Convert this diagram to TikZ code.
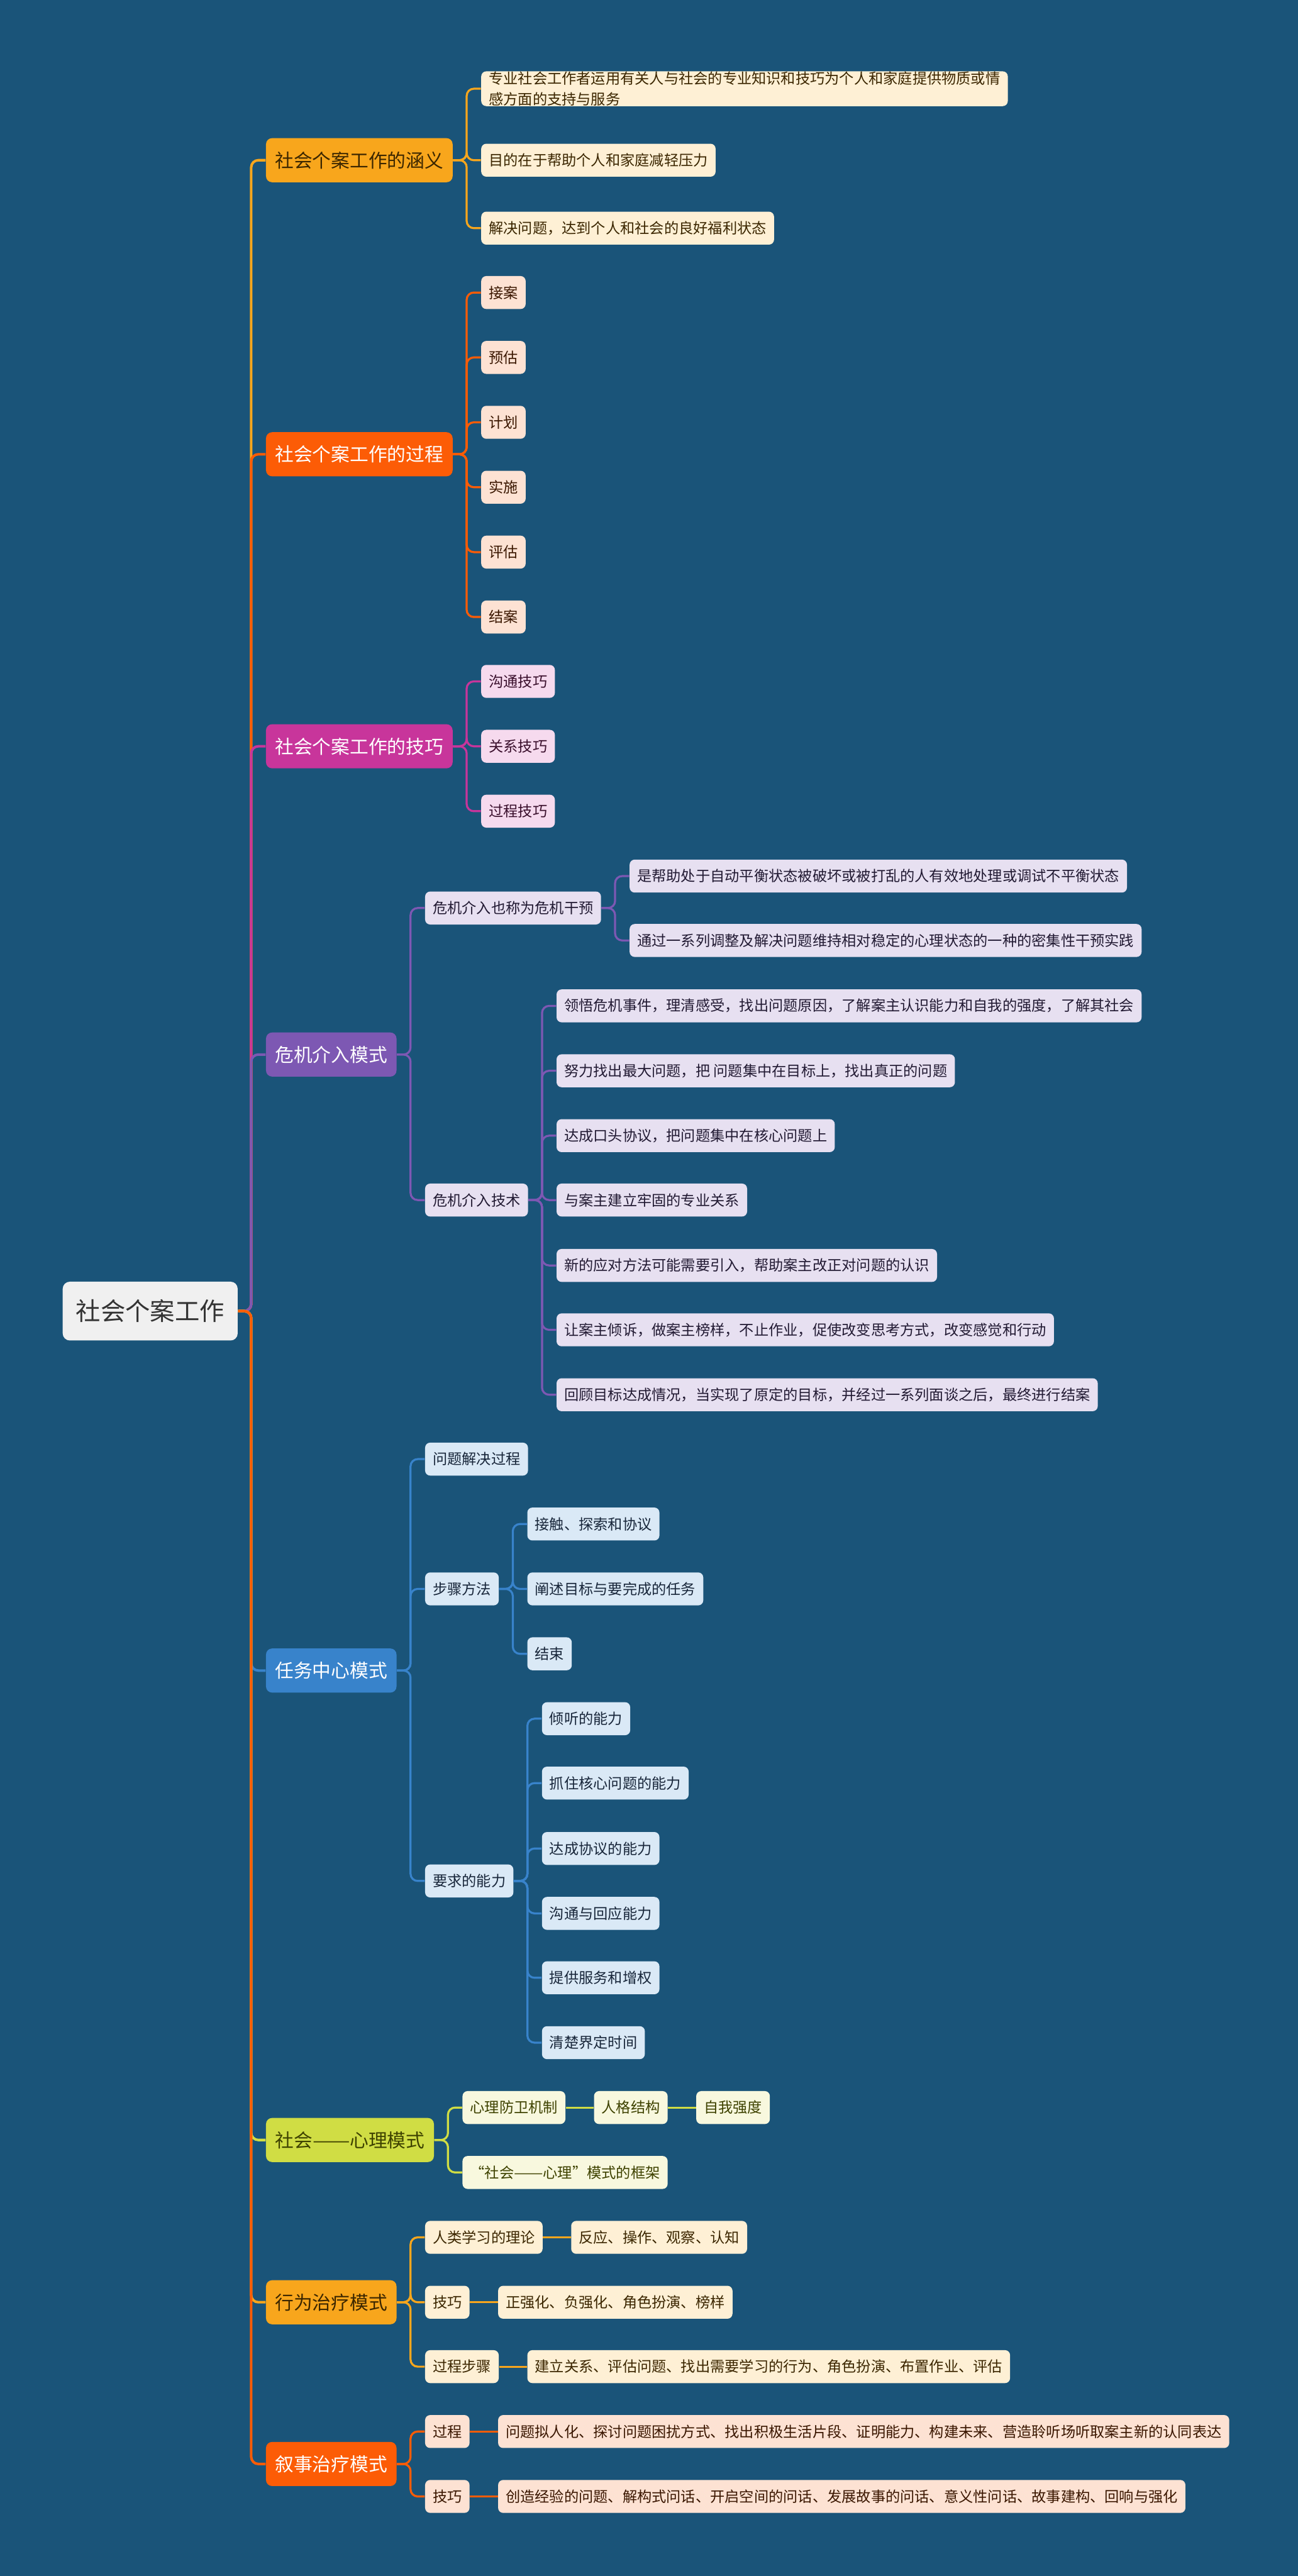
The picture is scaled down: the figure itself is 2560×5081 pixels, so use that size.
\documentclass[tikz,border=0pt]{standalone}
\usepackage{fontspec}
\setmainfont{Noto Sans CJK SC}
\usetikzlibrary{positioning}

\definecolor{bgblue}{HTML}{1A5479}
\definecolor{rootfill}{HTML}{F0F0F0}
\definecolor{meaningMain}{HTML}{F8A61C}
\definecolor{meaningLeaf}{HTML}{FEF0D5}
\definecolor{meaningText}{HTML}{3B2600}
\definecolor{processMain}{HTML}{FC5C06}
\definecolor{processLeaf}{HTML}{FDE2D3}
\definecolor{processText}{HTML}{3A1600}
\definecolor{skillMain}{HTML}{C8359B}
\definecolor{skillLeaf}{HTML}{F6DAEE}
\definecolor{skillText}{HTML}{3A0F2C}
\definecolor{crisisMain}{HTML}{7D58B3}
\definecolor{crisisLeaf}{HTML}{E7E0F1}
\definecolor{crisisText}{HTML}{221A33}
\definecolor{taskMain}{HTML}{3883CB}
\definecolor{taskLeaf}{HTML}{DAE9F6}
\definecolor{taskText}{HTML}{18263A}
\definecolor{psychoMain}{HTML}{D0DD44}
\definecolor{psychoLeaf}{HTML}{F8F8DE}
\definecolor{psychoText}{HTML}{3E4200}

\newcommand{\leaffont}{\fontsize{8.2}{11.9}\selectfont}
\newcommand{\topicfont}{\fontsize{10.5}{12}\selectfont}
\newcommand{\rootfont}{\fontsize{13.9}{16}\selectfont}
% two full-width dashes
\newcommand{\cndash}{\resizebox{2em}{\height}{——}}

\begin{document}
\begin{tikzpicture}[x=0.1mm, y=-0.1mm,
    every node/.style={rectangle, inner ysep=0pt, anchor=west},
    root/.style={fill=rootfill, text=black!80, font=\rootfont, rounded corners=1.4mm,
      minimum height=11.6mm, inner xsep=2.6mm},
    topic/.style={font=\topicfont, rounded corners=1.2mm, minimum height=8.7mm, inner xsep=1.8mm},
    leaf/.style={font=\leaffont, rounded corners=1mm, minimum height=6.5mm, inner xsep=1.5mm, xshift=5.5mm},
    meaning/.style={fill=meaningLeaf, text=meaningText},
    process/.style={fill=processLeaf, text=processText},
    skill/.style={fill=skillLeaf, text=skillText},
    crisis/.style={fill=crisisLeaf, text=crisisText},
    task/.style={fill=taskLeaf, text=taskText},
    psycho/.style={fill=psychoLeaf, text=psychoText},
    trunk/.style={line width=0.5mm, rounded corners=1.4mm},
    link/.style={line width=0.4mm, rounded corners=1.4mm}]

  \fill[bgblue] (0,0) rectangle (2560,5081);
  \useasboundingbox (0,0) rectangle (2560,5081);

  \node[root] (root) at (123,2586) {社会个案工作};

  % main topics
  \node[topic, fill=meaningMain, text=meaningText] (b1) at (524,316) {社会个案工作的涵义};
  \node[topic, fill=processMain, text=white] (b2) at (524,896) {社会个案工作的过程};
  \node[topic, fill=skillMain, text=white] (b3) at (524,1472) {社会个案工作的技巧};
  \node[topic, fill=crisisMain, text=white] (b4) at (524,2080) {危机介入模式};
  \node[topic, fill=taskMain, text=white] (b5) at (524,3295) {任务中心模式};
  \node[topic, fill=psychoMain, text=psychoText] (b6) at (524,4221) {社会\cndash 心理模式};
  \node[topic, fill=meaningMain, text=meaningText] (b7) at (524,4541) {行为治疗模式};
  \node[topic, fill=processMain, text=white] (b8) at (524,4860) {叙事治疗模式};

  % 涵义
  \node[leaf, meaning, align=left] (a1) at (b1.east |- 0,175)
    {专业社会工作者运用有关人与社会的专业知识和技巧为个人和家庭提供物质或情\\感方面的支持与服务};
  \node[leaf, meaning] (a2) at (b1.east |- 0,316) {目的在于帮助个人和家庭减轻压力};
  \node[leaf, meaning] (a3) at (b1.east |- 0,450) {解决问题，达到个人和社会的良好福利状态};

  % 过程
  \node[leaf, process] (p1) at (b2.east |- 0,577) {接案};
  \node[leaf, process] (p2) at (b2.east |- 0,705) {预估};
  \node[leaf, process] (p3) at (b2.east |- 0,833) {计划};
  \node[leaf, process] (p4) at (b2.east |- 0,961) {实施};
  \node[leaf, process] (p5) at (b2.east |- 0,1089) {评估};
  \node[leaf, process] (p6) at (b2.east |- 0,1217) {结案};

  % 技巧
  \node[leaf, skill] (s1) at (b3.east |- 0,1344) {沟通技巧};
  \node[leaf, skill] (s2) at (b3.east |- 0,1472) {关系技巧};
  \node[leaf, skill] (s3) at (b3.east |- 0,1600) {过程技巧};

  % 危机介入
  \node[leaf, crisis] (d1) at (b4.east |- 0,1791) {危机介入也称为危机干预};
  \node[leaf, crisis] (d11) at (d1.east |- 0,1728) {是帮助处于自动平衡状态被破坏或被打乱的人有效地处理或调试不平衡状态};
  \node[leaf, crisis] (d12) at (d1.east |- 0,1855) {通过一系列调整及解决问题维持相对稳定的心理状态的一种的密集性干预实践};
  \node[leaf, crisis] (d2) at (b4.east |- 0,2367) {危机介入技术};
  \node[leaf, crisis] (e1) at (d2.east |- 0,1984) {领悟危机事件，理清感受，找出问题原因，了解案主认识能力和自我的强度，了解其社会};
  \node[leaf, crisis] (e2) at (d2.east |- 0,2112) {努力找出最大问题，把 问题集中在目标上，找出真正的问题};
  \node[leaf, crisis] (e3) at (d2.east |- 0,2240) {达成口头协议，把问题集中在核心问题上};
  \node[leaf, crisis] (e4) at (d2.east |- 0,2367) {与案主建立牢固的专业关系};
  \node[leaf, crisis] (e5) at (d2.east |- 0,2496) {新的应对方法可能需要引入，帮助案主改正对问题的认识};
  \node[leaf, crisis] (e6) at (d2.east |- 0,2623) {让案主倾诉，做案主榜样，不止作业，促使改变思考方式，改变感觉和行动};
  \node[leaf, crisis] (e7) at (d2.east |- 0,2751) {回顾目标达成情况，当实现了原定的目标，并经过一系列面谈之后，最终进行结案};

  % 任务中心
  \node[leaf, task] (f1) at (b5.east |- 0,2878) {问题解决过程};
  \node[leaf, task] (f2) at (b5.east |- 0,3134) {步骤方法};
  \node[leaf, task] (g1) at (f2.east |- 0,3006) {接触、探索和协议};
  \node[leaf, task] (g2) at (f2.east |- 0,3134) {阐述目标与要完成的任务};
  \node[leaf, task] (g3) at (f2.east |- 0,3262) {结束};
  \node[leaf, task] (f3) at (b5.east |- 0,3710) {要求的能力};
  \node[leaf, task] (h1) at (f3.east |- 0,3390) {倾听的能力};
  \node[leaf, task] (h2) at (f3.east |- 0,3517) {抓住核心问题的能力};
  \node[leaf, task] (h3) at (f3.east |- 0,3646) {达成协议的能力};
  \node[leaf, task] (h4) at (f3.east |- 0,3774) {沟通与回应能力};
  \node[leaf, task] (h5) at (f3.east |- 0,3901) {提供服务和增权};
  \node[leaf, task] (h6) at (f3.east |- 0,4029) {清楚界定时间};

  % 社会——心理
  \node[leaf, psycho] (i1) at (b6.east |- 0,4157) {心理防卫机制};
  \node[leaf, psycho] (i2) at (i1.east |- 0,4157) {人格结构};
  \node[leaf, psycho] (i3) at (i2.east |- 0,4157) {自我强度};
  \node[leaf, psycho] (i4) at (b6.east |- 0,4285) {“社会\cndash 心理”模式的框架};

  % 行为治疗
  \node[leaf, meaning] (j1) at (b7.east |- 0,4413) {人类学习的理论};
  \node[leaf, meaning] (j11) at (j1.east |- 0,4413) {反应、操作、观察、认知};
  \node[leaf, meaning] (j2) at (b7.east |- 0,4541) {技巧};
  \node[leaf, meaning] (j21) at (j2.east |- 0,4541) {正强化、负强化、角色扮演、榜样};
  \node[leaf, meaning] (j3) at (b7.east |- 0,4668) {过程步骤};
  \node[leaf, meaning] (j31) at (j3.east |- 0,4668) {建立关系、评估问题、找出需要学习的行为、角色扮演、布置作业、评估};

  % 叙事治疗
  \node[leaf, process] (k1) at (b8.east |- 0,4796) {过程};
  \node[leaf, process] (k11) at (k1.east |- 0,4796) {问题拟人化、探讨问题困扰方式、找出积极生活片段、证明能力、构建未来、营造聆听场听取案主新的认同表达};
  \node[leaf, process] (k2) at (b8.east |- 0,4924) {技巧};
  \node[leaf, process] (k21) at (k2.east |- 0,4924) {创造经验的问题、解构式问话、开启空间的问话、发展故事的问话、意义性问话、故事建构、回响与强化};

  % connectors from the root
  \draw[trunk, meaningMain] (root.east) -- ++(26,0) |- (b1.west);
  \draw[trunk, processMain] (root.east) -- ++(26,0) |- (b2.west);
  \draw[trunk, skillMain] (root.east) -- ++(26,0) |- (b3.west);
  \draw[trunk, crisisMain] (root.east) -- ++(26,0) |- (b4.west);
  \draw[trunk, taskMain] (root.east) -- ++(26,0) |- (b5.west);
  \draw[trunk, psychoMain] (root.east) -- ++(26,0) |- (b6.west);
  \draw[trunk, meaningMain] (root.east) -- ++(26,0) |- (b7.west);
  \draw[trunk, processMain] (root.east) -- ++(26,0) |- (b8.west);

  % connectors inside the branches
  \foreach \c in {a1,a2,a3}
    \draw[link, meaningMain] (b1.east) -- ++(27,0) |- (\c.west);
  \foreach \c in {p1,p2,p3,p4,p5,p6}
    \draw[link, processMain] (b2.east) -- ++(27,0) |- (\c.west);
  \foreach \c in {s1,s2,s3}
    \draw[link, skillMain] (b3.east) -- ++(27,0) |- (\c.west);
  \foreach \c in {d1,d2}
    \draw[link, crisisMain] (b4.east) -- ++(27,0) |- (\c.west);
  \foreach \c in {d11,d12}
    \draw[link, crisisMain] (d1.east) -- ++(27,0) |- (\c.west);
  \foreach \c in {e1,e2,e3,e4,e5,e6,e7}
    \draw[link, crisisMain] (d2.east) -- ++(27,0) |- (\c.west);
  \foreach \c in {f1,f2,f3}
    \draw[link, taskMain] (b5.east) -- ++(27,0) |- (\c.west);
  \foreach \c in {g1,g2,g3}
    \draw[link, taskMain] (f2.east) -- ++(27,0) |- (\c.west);
  \foreach \c in {h1,h2,h3,h4,h5,h6}
    \draw[link, taskMain] (f3.east) -- ++(27,0) |- (\c.west);
  \foreach \c in {i1,i4}
    \draw[link, psychoMain] (b6.east) -- ++(27,0) |- (\c.west);
  \draw[link, psychoMain] (i1.east) -- (i2.west);
  \draw[link, psychoMain] (i2.east) -- (i3.west);
  \foreach \c in {j1,j2,j3}
    \draw[link, meaningMain] (b7.east) -- ++(27,0) |- (\c.west);
  \draw[link, meaningMain] (j1.east) -- (j11.west);
  \draw[link, meaningMain] (j2.east) -- (j21.west);
  \draw[link, meaningMain] (j3.east) -- (j31.west);
  \foreach \c in {k1,k2}
    \draw[link, processMain] (b8.east) -- ++(27,0) |- (\c.west);
  \draw[link, processMain] (k1.east) -- (k11.west);
  \draw[link, processMain] (k2.east) -- (k21.west);
\end{tikzpicture}
\end{document}
